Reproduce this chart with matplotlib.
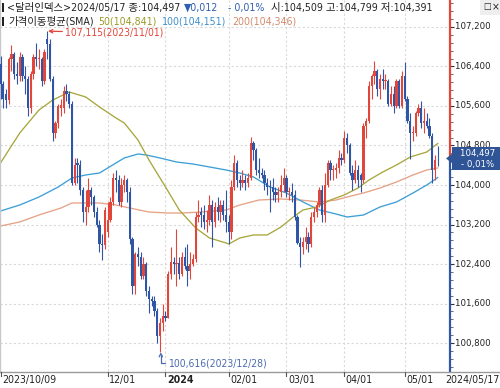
import matplotlib
matplotlib.use('Agg')
import matplotlib.pyplot as plt
from matplotlib import font_manager as fm
from matplotlib.patches import Polygon, Rectangle
from matplotlib.lines import Line2D
import numpy as np
import pandas as pd

# ---------- pick a narrow latin font if one is installed ----------
NAR_NAME, NAR_STRETCH = 'Liberation Sans', 'normal'
_found = None
for key in ['LiberationSansNarrow-Regular', 'LiberationSansNarrow', 'DejaVuSansCondensed.']:
    for f in fm.fontManager.ttflist:
        if key in f.fname.replace(' ', ''):
            _found = f
            break
    if _found:
        break
if _found is not None:
    NAR_NAME, NAR_STRETCH = _found.name, _found.stretch
FAM = [NAR_NAME, 'Noto Sans CJK KR', 'DejaVu Sans']
plt.rcParams['font.family'] = FAM
plt.rcParams['font.stretch'] = NAR_STRETCH

# ---------------- data ----------------
dates = pd.bdate_range('2023-10-09', '2024-05-17')

opens = [106.45, 106.05, 105.85, 105.72, 106.55, 106.65, 106.25, 106.20, 106.60, 106.20,
         106.15, 105.55, 106.25, 106.60, 106.55, 106.55, 106.10, 106.95, 106.85, 106.15,
         105.05, 105.25, 105.55, 105.55, 105.90, 105.85, 105.65, 104.05, 104.45, 104.40,
         103.90, 103.45, 103.55, 103.90, 103.75, 103.45, 103.20, 102.80, 102.78, 103.05,
         103.30, 103.65, 104.15, 104.10, 103.65, 104.00, 104.10, 103.85, 102.90, 101.95,
         102.60, 102.55, 102.15, 102.40, 101.85, 101.70, 101.65, 101.45, 100.95, 101.20,
         101.35, 101.30, 102.20, 102.45, 102.40, 102.42, 102.20, 102.55, 102.35, 102.25,
         102.40, 102.50, 103.35, 103.45, 103.40, 103.25, 103.30, 103.60, 103.25, 103.55,
         103.45, 103.60, 103.40, 103.25, 103.05, 103.95, 104.45, 104.10, 104.05, 104.10,
         104.05, 104.15, 104.85, 104.70, 104.30, 104.25, 104.20, 104.05, 103.98, 103.95,
         103.85, 103.80, 103.85, 104.00, 104.15, 103.85, 103.85, 103.80, 103.35, 102.82,
         102.75, 102.85, 102.95, 102.80, 103.35, 103.45, 103.60, 103.90, 103.40, 104.00,
         104.45, 104.30, 104.30, 104.35, 104.55, 104.50, 104.95, 104.80, 104.25, 104.10,
         104.30, 104.20, 104.10, 105.20, 105.30, 106.00, 106.20, 106.30, 105.95, 106.15,
         106.10, 106.10, 105.65, 105.85, 105.60, 106.10, 105.60, 106.20, 105.75, 105.30,
         105.05, 105.05, 105.45, 105.55, 105.25, 105.30, 105.20, 105.00, 104.30, 104.509]
highs = [106.62, 106.10, 105.95, 106.60, 106.83, 106.70, 106.50, 106.70, 106.65, 106.40,
         106.20, 106.30, 106.65, 106.87, 106.75, 106.60, 106.75, 107.115, 106.95, 106.20,
         105.30, 105.65, 105.75, 106.00, 106.05, 105.90, 105.70, 104.55, 104.55, 104.50,
         103.95, 103.90, 104.15, 103.95, 103.80, 103.55, 103.30, 103.00, 103.55, 103.65,
         103.75, 104.25, 104.30, 104.20, 104.15, 104.20, 104.15, 103.95, 102.95, 102.65,
         102.75, 102.65, 102.55, 102.45, 101.95, 101.75, 101.75, 101.50, 101.30, 101.60,
         101.45, 102.25, 102.75, 102.55, 103.10, 102.55, 102.65, 102.75, 102.80, 102.65,
         102.60, 103.45, 103.70, 103.55, 103.60, 103.50, 103.80, 103.70, 103.65, 103.75,
         103.70, 103.70, 103.90, 103.40, 104.10, 104.60, 104.50, 104.20, 104.30, 104.20,
         104.25, 104.97, 104.90, 104.75, 104.55, 104.35, 104.30, 104.15, 104.10, 104.15,
         103.95, 103.95, 104.20, 104.35, 104.20, 103.95, 104.05, 103.90, 103.40, 102.95,
         102.95, 103.15, 103.05, 103.45, 103.55, 103.65, 103.95, 104.00, 104.25, 104.50,
         104.50, 104.40, 104.45, 104.70, 104.65, 105.10, 105.05, 104.85, 104.40, 104.50,
         104.40, 104.25, 105.25, 105.35, 106.10, 106.25, 106.52, 106.35, 106.25, 106.35,
         106.25, 106.15, 106.00, 106.00, 106.15, 106.15, 106.30, 106.49, 105.80, 105.45,
         105.20, 105.50, 105.65, 105.70, 105.55, 105.45, 105.35, 105.05, 104.60, 104.799]
lows = [105.75, 105.55, 105.55, 105.65, 106.30, 106.15, 106.05, 106.10, 106.10, 105.85,
        105.40, 105.45, 106.15, 106.40, 106.35, 106.00, 106.05, 106.55, 106.10, 104.90,
        104.95, 105.15, 105.40, 105.45, 105.70, 105.55, 104.00, 104.00, 104.05, 103.80,
        103.25, 103.20, 103.45, 103.60, 103.35, 103.15, 102.65, 102.48, 102.70, 102.95,
        103.25, 103.60, 103.85, 103.60, 103.55, 103.85, 103.65, 102.80, 101.80, 101.80,
        102.35, 102.10, 102.10, 101.75, 101.40, 101.55, 101.35, 100.80, 100.616, 101.05,
        101.25, 101.30, 102.10, 102.20, 101.95, 102.10, 102.15, 102.30, 101.95, 102.10,
        102.35, 102.45, 103.25, 103.15, 103.10, 103.05, 103.20, 102.75, 103.15, 103.30,
        103.25, 103.30, 103.05, 102.80, 102.90, 103.90, 103.95, 103.90, 103.95, 103.90,
        103.95, 104.10, 104.50, 104.20, 104.15, 104.15, 103.90, 103.80, 103.45, 103.70,
        103.65, 103.65, 103.75, 103.85, 103.75, 103.70, 103.65, 103.30, 102.80, 102.33,
        102.60, 102.70, 102.65, 102.75, 103.25, 103.35, 103.55, 103.25, 103.25, 103.95,
        104.10, 104.10, 104.15, 104.25, 104.40, 104.45, 104.65, 104.20, 103.90, 104.05,
        103.95, 103.85, 104.05, 104.95, 105.25, 105.75, 106.05, 105.80, 105.75, 105.95,
        105.95, 105.60, 105.60, 105.45, 105.55, 105.55, 105.55, 105.70, 105.25, 104.52,
        104.90, 105.00, 105.40, 105.15, 105.05, 105.15, 104.95, 104.05, 104.10, 104.391]
closes = [106.05, 105.75, 105.72, 106.55, 106.65, 106.25, 106.20, 106.60, 106.20, 106.15,
          105.55, 106.25, 106.60, 106.55, 106.57, 106.10, 106.70, 106.85, 106.15, 105.05,
          105.25, 105.60, 105.62, 105.90, 105.85, 105.65, 104.05, 104.40, 104.40, 103.90,
          103.45, 103.55, 103.90, 103.75, 103.45, 103.20, 102.80, 102.78, 103.50, 103.30,
          103.65, 104.15, 104.10, 103.65, 104.00, 104.10, 103.85, 102.90, 101.95, 102.60,
          102.55, 102.15, 102.40, 101.85, 101.70, 101.65, 101.45, 100.95, 101.20, 101.35,
          101.30, 102.20, 102.45, 102.40, 102.42, 102.20, 102.55, 102.35, 102.25, 102.40,
          102.50, 103.35, 103.40, 103.40, 103.25, 103.30, 103.60, 103.25, 103.55, 103.45,
          103.60, 103.40, 103.25, 103.05, 103.95, 104.45, 104.10, 104.05, 104.10, 104.05,
          104.15, 104.85, 104.70, 104.30, 104.25, 104.20, 104.05, 103.95, 103.95, 103.85,
          103.80, 103.85, 104.00, 104.15, 103.85, 103.87, 103.80, 103.35, 102.82, 102.75,
          102.85, 102.95, 102.80, 103.35, 103.45, 103.60, 103.90, 103.40, 104.00, 104.45,
          104.30, 104.32, 104.35, 104.55, 104.50, 104.95, 104.80, 104.25, 104.10, 104.30,
          104.10, 104.10, 105.20, 105.30, 106.00, 106.20, 106.30, 105.95, 106.15, 106.10,
          106.12, 105.65, 105.85, 105.60, 106.10, 105.60, 106.20, 105.75, 105.30, 105.05,
          105.07, 105.45, 105.55, 105.25, 105.30, 105.20, 105.00, 104.30, 104.50, 104.497]

# moving averages (day index, value)
ma50_idx = [0, 7, 14, 19, 25, 31, 36, 42, 45, 50, 54, 60, 65, 71, 76, 82, 83, 87, 92, 97,
            102, 106, 110, 115, 120, 125, 130, 134, 139, 144, 149, 155, 159]
ma50_val = [104.446, 105.053, 105.519, 105.721, 105.883, 105.782, 105.580, 105.357, 105.256,
            104.911, 104.506, 103.960, 103.494, 103.129, 102.927, 102.826, 102.805, 102.927,
            102.988, 102.988, 103.150, 103.332, 103.494, 103.555, 103.696, 103.798, 103.939,
            104.101, 104.263, 104.405, 104.567, 104.668, 104.841]
ma100_idx = [0, 7, 14, 21, 26, 31, 36, 42, 45, 50, 53, 58, 64, 70, 76, 82, 87, 92, 98, 104,
             110, 116, 122, 126, 132, 138, 144, 150, 155, 159]
ma100_val = [103.474, 103.595, 103.757, 103.960, 104.142, 104.203, 104.243, 104.446, 104.547,
             104.628, 104.608, 104.547, 104.466, 104.425, 104.365, 104.304, 104.243, 104.162,
             103.960, 103.838, 103.656, 103.494, 103.413, 103.352, 103.392, 103.555, 103.656,
             103.838, 104.000, 104.151]
ma200_idx = [0, 7, 14, 22, 26, 31, 36, 42, 47, 54, 61, 66, 73, 82, 87, 94, 102, 109, 116, 122,
             126, 132, 138, 144, 150, 155, 159]
ma200_val = [103.170, 103.251, 103.393, 103.534, 103.636, 103.636, 103.636, 103.595, 103.534,
             103.453, 103.433, 103.433, 103.453, 103.494, 103.595, 103.696, 103.717, 103.696,
             103.656, 103.696, 103.757, 103.838, 103.939, 104.061, 104.203, 104.304, 104.346]

yticks = [100.8, 101.6, 102.4, 103.2, 104.0, 104.8, 105.6, 106.4, 107.2]
xtick_idx = [0, 39, 60, 83, 104, 125, 147]
xtick_labels = ['2023/10/09', '12/01', '2024', '02/01', '03/01', '04/01', '05/01']
last_label = '2024/05/17'
last_price = 104.497

header1 = [('<달러인덱스>2024/05/17 종:104,497', '#222222'),
           ('▼0,012', '#2f5fb0'),
           ('- 0,01%', '#2f5fb0'),
           ('시:104,509 고:104,799 저:104,391', '#222222')]
header2 = [('가격이동평균(SMA)', '#222222'),
           ('50(104,841)', '#9c9a28'),
           ('100(104,151)', '#3d8fcf'),
           ('200(104,346)', '#d48a6a')]

RED = '#e2453a'
BLUE = '#2f56a6'
C50 = '#a8a63c'
C100 = '#3d9fd8'
C200 = '#e6a287'

# ---------------- figure ----------------
W, H = 500, 388
fig = plt.figure(figsize=(5, 3.88), dpi=100)
fig.patch.set_facecolor('white')
AXB = 371
ax = fig.add_axes([0, 1 - AXB / H, 450 / W, AXB / H])
px = 0.02025
ax.set_ylim(104 - (AXB - 185) * px, 104 + 185 * px)
ax.set_xlim(-0.5 / 2.75, (450 - 0.5) / 2.75)
renderer = fig.canvas.get_renderer()


def fx(x):
    return x / W


def fy(y):
    return 1 - y / H


def width(t):
    return t.get_window_extent(renderer).width


def fit(t, target):
    w = width(t)
    if w > 0:
        t.set_fontsize(t.get_fontsize() * target / w)
    return t


def fitted_size(s, target, base=8.0):
    tmp = fig.text(0, 0, s, fontsize=base)
    w = width(tmp)
    tmp.remove()
    return base * target / w


# grid
for v in yticks:
    ax.axhline(v, color='#d9d9d9', lw=0.8, ls=(0, (2, 2)), zorder=0)
for i in xtick_idx[1:]:
    ax.axvline(i, color='#d9d9d9', lw=0.8, ls=(0, (2, 2)), zorder=0)

# moving averages
ax.plot(ma200_idx, ma200_val, color=C200, lw=0.95, zorder=2)
ax.plot(ma100_idx, ma100_val, color=C100, lw=0.95, zorder=2)
ax.plot(ma50_idx, ma50_val, color=C50, lw=0.95, zorder=2)

# candles
idx = np.arange(len(closes))
o = np.array(opens)
c = np.array(closes)
hi = np.array(highs)
lo = np.array(lows)
cols = np.where(c > o, RED, BLUE)
ax.vlines(idx, lo, hi, colors=cols, linewidth=0.8, zorder=3)
body = np.maximum(np.abs(c - o), 0.015)
ax.bar(idx, body, bottom=np.minimum(o, c), width=0.8, color=cols, linewidth=0, zorder=4)

# annotations high / low
hi_i = int(np.argmax(hi))
lo_i = int(np.argmin(lo))
hi_txt = '107,115(2023/11/01)'
lo_txt = '100,616(2023/12/28)'
ax.annotate(hi_txt, xy=(hi_i + 0.3, hi[hi_i]), xytext=(17, -1.5),
            textcoords='offset pixels', ha='left', va='center', color=RED,
            fontsize=fitted_size(hi_txt, 98),
            arrowprops=dict(arrowstyle='->', color=RED, lw=0.9, shrinkA=0, shrinkB=0,
                            mutation_scale=6))
ax.annotate(lo_txt, xy=(lo_i + 0.3, lo[lo_i]), xytext=(7, -11),
            textcoords='offset pixels', ha='left', va='center', color='#4d6bb0',
            fontsize=fitted_size(lo_txt, 99),
            arrowprops=dict(arrowstyle='->', color='#4d6bb0', lw=0.9, shrinkA=0, shrinkB=0,
                            mutation_scale=6,
                            connectionstyle='angle,angleA=0,angleB=90,rad=0'))

# axes cosmetics
for s in ['top', 'right', 'bottom']:
    ax.spines[s].set_visible(False)
ax.spines['left'].set_color('#c8c8c8')
ax.spines['left'].set_linewidth(1.0)
ax.set_xticks([])
ax.yaxis.tick_right()
ax.set_yticks(yticks)
ax.set_yticklabels([])
ax.set_yticks(np.arange(100.32, 107.7, 0.16), minor=True)
ax.tick_params(axis='y', which='major', direction='out', length=3, width=0.8, colors='#333333')
ax.tick_params(axis='y', which='minor', direction='out', length=2, width=0.6, colors='#555555')
ytrans = ax.get_yaxis_transform()
yfs = fitted_size('107,200', 35)
for v in yticks:
    ax.text(455 / 450, v, f'{v:.3f}'.replace('.', ','), transform=ytrans, ha='left',
            va='center', fontsize=yfs, color='#222222', clip_on=False)

# right axis spine in two colours
trans = ax.transData
py = fig.transFigure.inverted().transform(trans.transform((0, last_price)))[1]
fig.add_artist(Line2D([fx(450), fx(450)], [1, py], color=RED, lw=1.6))
fig.add_artist(Line2D([fx(450), fx(450)], [py, fy(AXB)], color=BLUE, lw=1.6))

# price tag
ypix = (1 - py) * H - 2
fig.add_artist(Rectangle((fx(452), fy(ypix + 11.5)), fx(48), 23 / H, transform=fig.transFigure,
                         facecolor='#2f5597', edgecolor='none', zorder=5))
fig.add_artist(Polygon([[fx(446), fy(ypix)], [fx(452.5), fy(ypix - 5)], [fx(452.5), fy(ypix + 5)]],
                       closed=True, transform=fig.transFigure, facecolor='#2f5597',
                       edgecolor='none', zorder=5))
tfs = fitted_size('104,497', 35)
fig.text(fx(478), fy(ypix - 5), f'{last_price:.3f}'.replace('.', ','), color='white',
         fontsize=tfs, ha='center', va='center', zorder=6)
fig.text(fx(478), fy(ypix + 6), '- 0,01%', color='white', fontsize=tfs,
         ha='center', va='center', zorder=6)

# bottom axis line and x labels
fig.add_artist(Line2D([0, 1], [fy(371.5), fy(371.5)], color='#9a9a9a', lw=1.0))
xfs = fitted_size('2023/10/09', 54)
for i, lab in zip(xtick_idx, xtick_labels):
    xp = fig.transFigure.inverted().transform(trans.transform((i, 104)))[0]
    fig.add_artist(Line2D([xp, xp], [fy(372), fy(376)], color='#555555', lw=0.8))
    fig.text(xp + 1.5 / W, fy(380), lab, ha='left', va='center', fontsize=xfs, color='#222222',
             fontweight='bold' if lab == '2024' else 'normal')
fig.text(fx(499.5), fy(380), last_label, ha='right', va='center', fontsize=xfs, color='#222222')

# header: one font size, segments laid out in sequence
fig.add_artist(Rectangle((fx(1.5), fy(12)), 2 / W, 9 / H, transform=fig.transFigure,
                         facecolor='#222222', edgecolor='none'))
fig.add_artist(Rectangle((fx(1.5), fy(26)), 2 / W, 9 / H, transform=fig.transFigure,
                         facecolor='#222222', edgecolor='none'))


def make_line(items, y):
    return [fig.text(0, fy(y), s, ha='left', va='center', fontsize=8.0, color=col)
            for s, col in items]


line1 = make_line(header1, 7.5)
line2 = make_line(header2, 21.5)
gaps1 = [4, 9, 7]
gaps2 = [5, 5, 6]
w1 = sum(width(t) for t in line1)
hfs = 8.0 * (432 - 7 - sum(gaps1)) / w1
for tt in line1 + line2:
    tt.set_fontsize(hfs)


def place(texts, x0, gaps):
    x = x0
    for k, tt in enumerate(texts):
        tt.set_x(fx(x))
        x += width(tt) + (gaps[k] if k < len(gaps) else 0)


place(line1, 7, gaps1)
place(line2, 8, gaps2)

# window icons
fig.add_artist(Rectangle((fx(480), fy(15)), 20 / W, 15 / H, transform=fig.transFigure,
                         facecolor='#eeeeee', edgecolor='none'))
fig.text(fx(483), fy(7), '□', ha='left', va='center', fontsize=6.5, color='#222222',
         family=['DejaVu Sans'])
fig.text(fx(492), fy(7), '×', ha='left', va='center', fontsize=7.5, color='#222222',
         family=['DejaVu Sans'])

fig.savefig('out.png', dpi=100, facecolor='white')
